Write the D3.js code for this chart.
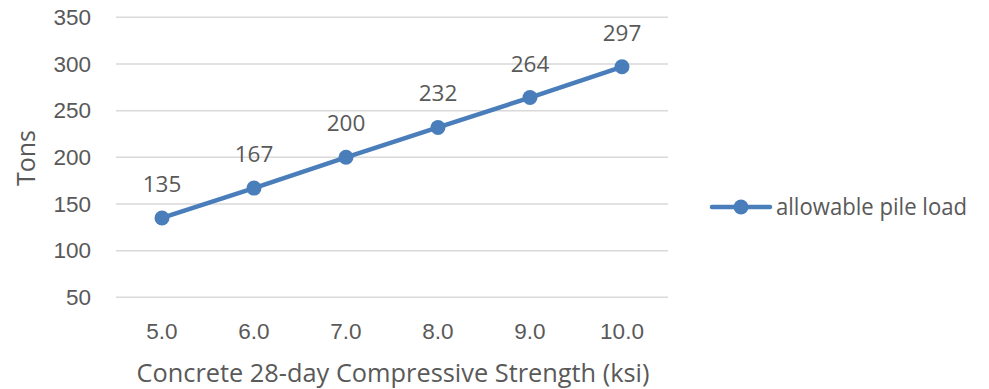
<!DOCTYPE html>
<html>
<head>
<meta charset="utf-8">
<script src="https://cdn.jsdelivr.net/npm/d3@7"></script>
<style>
  html, body { margin: 0; padding: 0; background: #fff; }
  svg { display: block; font-family: "Open Sans", "Liberation Sans", sans-serif; }
</style>
</head>
<body>
<svg id="chart" width="989" height="389"></svg>
<script>
// Concrete strength (ksi) vs allowable pile load (tons)
const categories = ["5.0", "6.0", "7.0", "8.0", "9.0", "10.0"];
const pileLoad = [135, 167, 200, 232, 264, 297];
const yTicks = [50, 100, 150, 200, 250, 300, 350];
const seriesName = "allowable pile load";
const xTitle = "Concrete 28-day Compressive Strength (ksi)";
const yTitle = "Tons";

const svg = d3.select("#chart");
const lineColor = "#4a7ebb";
const textColor = "#595959";
const gridColor = "#d9d9d9";
const numSize = "22.5px";
const titleSize = "25px";

const plot = { left: 116, right: 668, top: 17.3, bottom: 297.3 };

const x = d3.scaleBand().domain(categories).range([plot.left, plot.right]).padding(0);
const y = d3.scaleLinear().domain([50, 350]).range([plot.bottom, plot.top]);

// horizontal gridlines
svg.append("g")
  .selectAll("line")
  .data(yTicks)
  .join("line")
  .attr("x1", plot.left)
  .attr("x2", plot.right)
  .attr("y1", d => y(d))
  .attr("y2", d => y(d))
  .attr("stroke", gridColor)
  .attr("stroke-width", 1.5);

// y axis labels
const yAxis = d3.axisLeft(y).tickValues(yTicks).tickSize(0).tickPadding(0);
const yG = svg.append("g").attr("transform", `translate(91,0)`).call(yAxis);
yG.select(".domain").remove();
yG.selectAll("text")
  .attr("fill", textColor)
  .style("font-size", numSize);

// x axis labels
const xAxis = d3.axisBottom(x).tickSize(0).tickPadding(0);
const xG = svg.append("g").attr("transform", `translate(0,${plot.bottom})`).call(xAxis);
xG.select(".domain").remove();
xG.selectAll("text")
  .attr("fill", textColor)
  .attr("dy", null)
  .attr("y", 42)
  .style("font-size", numSize);

// axis titles
svg.append("text")
  .attr("x", 393)
  .attr("y", 382)
  .attr("text-anchor", "middle")
  .attr("fill", textColor)
  .style("font-size", titleSize)
  .attr("textLength", 513)
  .attr("lengthAdjust", "spacingAndGlyphs")
  .text(xTitle);

svg.append("text")
  .attr("transform", "translate(35,158) rotate(-90)")
  .attr("text-anchor", "middle")
  .attr("fill", textColor)
  .style("font-size", titleSize)
  .text(yTitle);

// series line and markers
const cx = d => x(d.cat) + x.bandwidth() / 2;
const pts = categories.map((c, i) => ({ cat: c, v: pileLoad[i] }));

svg.append("path")
  .datum(pts)
  .attr("fill", "none")
  .attr("stroke", lineColor)
  .attr("stroke-width", 4.5)
  .attr("stroke-linecap", "round")
  .attr("stroke-linejoin", "round")
  .attr("d", d3.line().x(cx).y(d => y(d.v)));

svg.append("g")
  .selectAll("circle")
  .data(pts)
  .join("circle")
  .attr("cx", cx)
  .attr("cy", d => y(d.v))
  .attr("r", 7.5)
  .attr("fill", lineColor);

// value labels
svg.append("g")
  .selectAll("text")
  .data(pts)
  .join("text")
  .attr("x", cx)
  .attr("y", d => y(d.v) - 26)
  .attr("text-anchor", "middle")
  .attr("fill", textColor)
  .style("font-size", numSize)
  .text(d => d.v);

// legend
const lg = svg.append("g").attr("transform", "translate(0,207)");
lg.append("line")
  .attr("x1", 712).attr("x2", 770)
  .attr("y1", 0).attr("y2", 0)
  .attr("stroke", lineColor)
  .attr("stroke-width", 4.5)
  .attr("stroke-linecap", "round");
lg.append("circle")
  .attr("cx", 741).attr("cy", 0).attr("r", 7.5)
  .attr("fill", lineColor);
lg.append("text")
  .attr("x", 776).attr("y", 8)
  .attr("fill", textColor)
  .style("font-size", "23px")
  .attr("textLength", 191)
  .attr("lengthAdjust", "spacingAndGlyphs")
  .text(seriesName);
</script>
</body>
</html>
